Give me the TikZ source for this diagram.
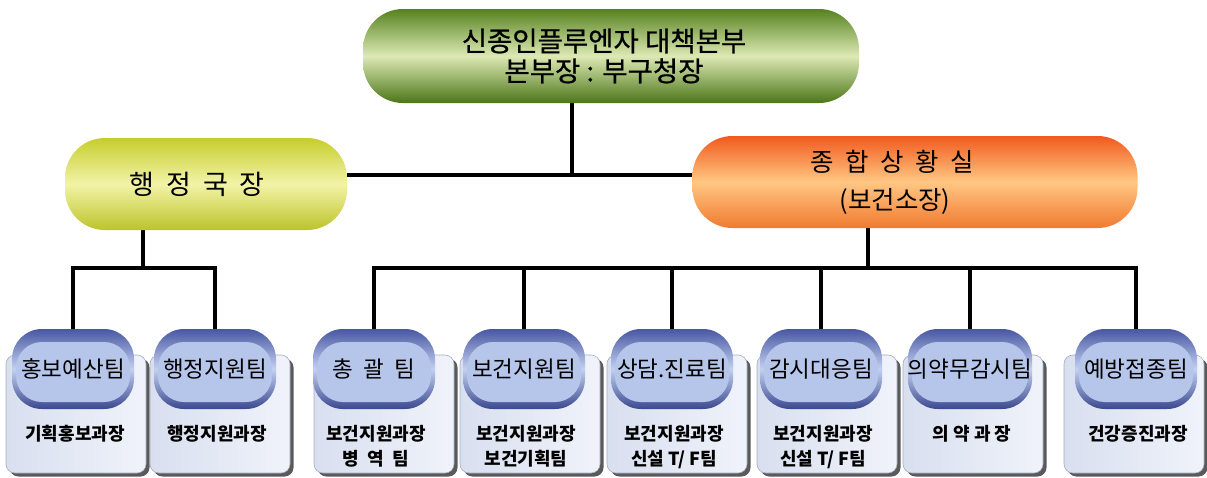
\documentclass[tikz,border=0pt]{standalone}
\usepackage{fontspec}
\setmainfont{Noto Sans CJK KR}
\newfontfamily\krmed{Noto Sans CJK KR}[FakeBold=0.7]
\usetikzlibrary{shadows,backgrounds}
\definecolor{gtop}{HTML}{56821F}
\definecolor{gmid}{HTML}{DDE9B4}
\definecolor{gbot}{HTML}{4C7619}
\definecolor{ytop}{HTML}{C6CE2C}
\definecolor{ymid}{HTML}{F3F3A8}
\definecolor{ybot}{HTML}{BCC42A}
\definecolor{otop}{HTML}{F05A1E}
\definecolor{omid}{HTML}{FFC783}
\definecolor{obot}{HTML}{F07A30}
\definecolor{btop}{HTML}{4857A2}
\definecolor{bmid}{HTML}{C2D0F0}
\definecolor{bbot}{HTML}{3A4890}
\definecolor{binner}{HTML}{B6C6EA}
\definecolor{boxl}{HTML}{D8DFEF}
\definecolor{boxr}{HTML}{F0F3FA}
\definecolor{boxline}{HTML}{A4ACBC}
\definecolor{shadowc}{HTML}{5A5A5A}
\begin{document}
\begin{tikzpicture}[x=1pt,y=-1pt,
  conn/.style={line width=3.5pt, black},
  bigpill/.style={rounded corners=40pt, inner sep=0pt, align=center},
  toppill/.style={bigpill, minimum width=496pt, minimum height=94pt,
    top color=gtop, bottom color=gbot, middle color=gmid,
    font=\krmed\fontsize{27.5}{30}\selectfont},
  admpill/.style={bigpill, minimum width=282pt, minimum height=92pt,
    top color=ytop, bottom color=ybot, middle color=ymid,
    font=\fontsize{27}{30}\selectfont},
  sitpill/.style={bigpill, minimum width=445pt, minimum height=92pt,
    top color=otop, bottom color=obot, middle color=omid,
    font=\fontsize{25.5}{38}\selectfont},
  teampill/.style={rounded corners=30pt, inner sep=0pt,
    minimum width=122pt, minimum height=80pt,
    top color=btop, bottom color=bbot, middle color=bmid,
    font=\fontsize{22.5}{24}\selectfont,
    path picture={\fill[binner, rounded corners=26pt]
      ([shift={(4pt,-13pt)}]path picture bounding box.north west) rectangle
      ([shift={(-4pt,7pt)}]path picture bounding box.south east);}},
  teambox/.style={rounded corners=9pt, minimum width=140pt, minimum height=118pt,
    left color=boxl, right color=boxr, draw=boxline, line width=0.6pt,
    drop shadow={shadow xshift=3.5pt, shadow yshift=-3.5pt, fill=shadowc, opacity=1}},
  subtext/.style={font=\bfseries\fontsize{18}{25}\selectfont, align=center, inner sep=0pt}
]
\useasboundingbox (0,0) rectangle (1207,477);

% top level
\node[toppill] (top) at (611,56) {\hspace*{-14pt}신종인플루엔자 대책본부\\\hspace*{-14pt}본부장 : 부구청장};
\node[admpill] (adm) at (206,184) {\hspace*{-18pt}행~~정~~국~~장};
\node[sitpill] (sit) at (915,182) {\hspace*{-46pt}종~~합~~상~~황~~실\\\hspace*{-40pt}(보건소장)};

% team boxes
\foreach \i/\x/\bx/\t/\s in {
  1/73/76/홍보예산팀/기획홍보과장,
  2/215/220/행정지원팀/행정지원과장,
  3/374/384/총~~괄~~팀/{보건지원과장\\병~~역~~팀},
  4/524/530/보건지원팀/{보건지원과장\\보건기획팀},
  5/672/677/상담.진료팀/{보건지원과장\\신설 T/ F팀},
  6/821/827/감시대응팀/{보건지원과장\\신설 T/ F팀},
  7/970/973/의약무감시팀/의~약~과~장,
  8/1136/1134/예방접종팀/건강증진과장}{
  \node[teambox] (r\i) at (\bx,414) {};
  \node[teampill] (t\i) at (\x,369) {\raisebox{-2pt}{\t}};
  \node[subtext, anchor=north] (s\i) at (\x+2,425) {\s};
}

% connectors
\coordinate (h1) at (572,175);
\coordinate (lb) at (143,268);
\coordinate (rb) at (868,268);
\begin{scope}[on background layer]
\draw[conn] (h1 |- top.south) -- (h1);
\draw[conn] (adm.east |- h1) -- (sit.west |- h1);
\draw[conn] (lb |- adm.south) -- (lb);
\draw[conn] (rb |- sit.south) -- (rb);
\draw[conn] (t1.north) |- (t2.north |- lb) -- (t2.north);
\draw[conn] (t3.north) |- (t8.north |- rb) -- (t8.north);
\foreach \i in {4,5,6,7}{
  \draw[conn] (t\i.north) -- (t\i.north |- rb);
}
\end{scope}
\end{tikzpicture}
\end{document}
